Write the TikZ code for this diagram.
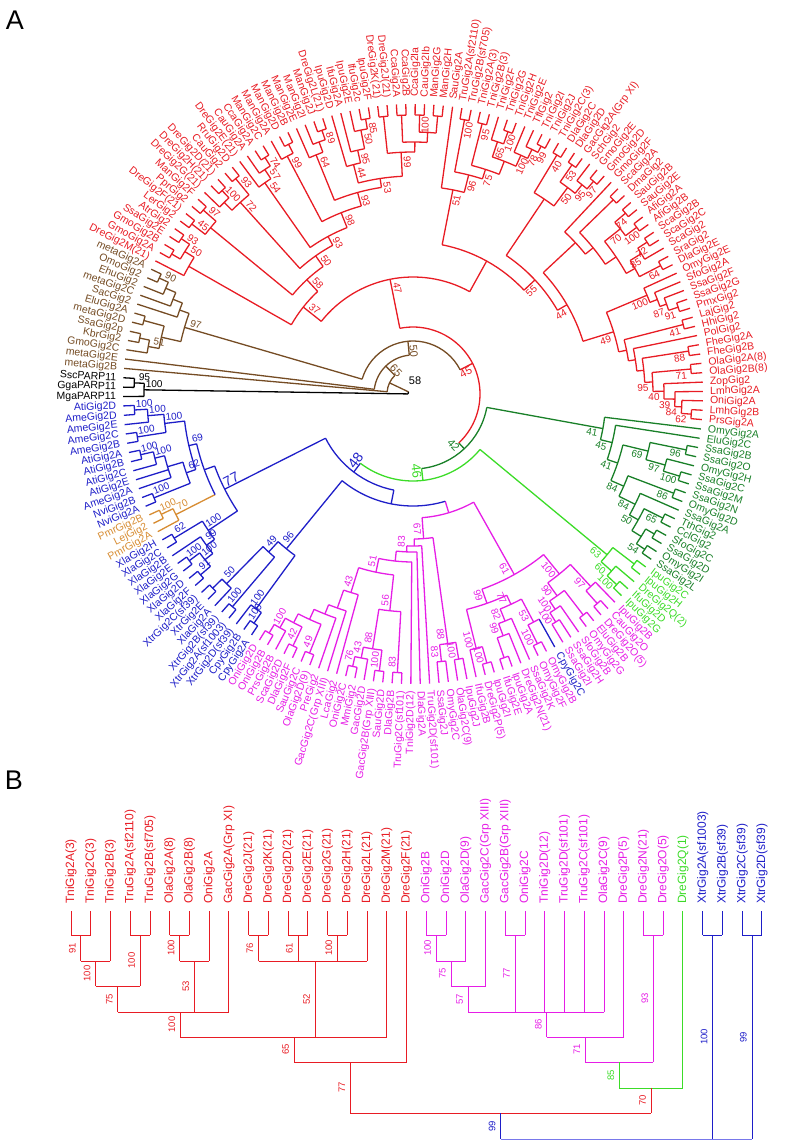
\documentclass[tikz,border=0pt]{standalone}
\usepackage{fontspec}
\setmainfont{Liberation Sans}
\definecolor{cred}{RGB}{232,28,36}
\definecolor{cbrown}{RGB}{117,76,36}
\definecolor{cdgreen}{RGB}{25,128,40}
\definecolor{clgreen}{RGB}{60,220,40}
\definecolor{cmag}{RGB}{230,30,230}
\definecolor{cblue}{RGB}{30,30,200}
\definecolor{cbluel}{RGB}{120,120,235}
\definecolor{corange}{RGB}{215,140,50}
% circular tree: leaf = name, index, colour, text
\newcommand{\lf}[4]{%
 \pgfmathsetmacro\lfa{180.5-(#2)*1.8556701}%
 \expandafter\xdef\csname an@#1\endcsname{\lfa}%
 \expandafter\xdef\csname ra@#1\endcsname{290}%
 \expandafter\xdef\csname co@#1\endcsname{#3}%
 \pgfmathsetmacro\lfc{cos(\lfa)}%
 \ifdim\lfc pt<0pt
  \pgfmathsetmacro\lfr{\lfa+180}%
  \node[lab,text=#3,rotate=\lfr,anchor=east] (l#1) at (\lfa:297) {#4};
 \else
  \node[lab,text=#3,rotate=\lfa,anchor=west] (l#1) at (\lfa:297) {#4};
 \fi}
% support value beside a node
\newcommand{\bsl}[4]{%
 \if\relax\detokenize{#4}\relax\else
  \pgfmathsetmacro\bsa{#1-6/#2*57.3}%
  \pgfmathsetmacro\bsr{#2-10}%
  \pgfmathsetmacro\bsc{cos(#1)}%
  \ifdim\bsc pt<0pt \pgfmathsetmacro\bsrot{#1+180}\else \pgfmathsetmacro\bsrot{#1}\fi
  \node[bs,text=#3,rotate=\bsrot] at (\bsa:\bsr) {#4};
 \fi}
% clade = [branch colour] name, radius, arc colour, support, children
\newcommand{\cl}[6][]{%
 \gdef\clmin{1000}\gdef\clmax{-1000}%
 \foreach \cc in {#6}{%
  \edef\cca{\csname an@\cc\endcsname}%
  \edef\ccr{\csname ra@\cc\endcsname}%
  \edef\ccc{\csname co@\cc\endcsname}%
  \draw[br,draw=\ccc] (\cca:#3) -- (\cca:\ccr);
  \pgfmathsetmacro\cmn{min(\clmin,\cca)}\xdef\clmin{\cmn}%
  \pgfmathsetmacro\cmx{max(\clmax,\cca)}\xdef\clmax{\cmx}%
 }%
 \draw[br,draw=#4] (\clmin:#3) arc[start angle=\clmin,end angle=\clmax,radius=#3];
 \pgfmathsetmacro\clm{(\clmin+\clmax)/2}%
 \coordinate (n#2) at (\clm:#3);
 \expandafter\xdef\csname an@#2\endcsname{\clm}%
 \expandafter\xdef\csname ra@#2\endcsname{#3}%
 \if\relax\detokenize{#1}\relax
  \expandafter\xdef\csname co@#2\endcsname{#4}\bsl{\clm}{#3}{#4}{#5}%
 \else
  \expandafter\xdef\csname co@#2\endcsname{#1}\bsl{\clm}{#3}{#1}{#5}%
 \fi}
% rectangular tree: leaf = name, index, colour, text
\newcommand{\blf}[4]{%
 \pgfmathsetmacro\bxx{71+19.74*(#2)}%
 \expandafter\xdef\csname bx@#1\endcsname{\bxx}%
 \expandafter\xdef\csname by@#1\endcsname{911}%
 \expandafter\xdef\csname bc@#1\endcsname{#3}%
 \expandafter\gdef\csname bl@#1\endcsname{}%
 \node[blab,text=#3,rotate=90,anchor=west] (b#1) at (\bxx,904) {#4};}
% rectangular clade = name, level, bar colour, stem colour, support, children
\newcommand{\bcl}[6]{%
 \gdef\bmin{5000}\gdef\bmax{-5000}\gdef\bsum{0}\gdef\bcnt{0}%
 \foreach \cc in {#6}{%
  \edef\ccx{\csname bx@\cc\endcsname}%
  \edef\ccy{\csname by@\cc\endcsname}%
  \edef\ccc{\csname bc@\cc\endcsname}%
  \draw[bln,draw=\ccc] (\ccx,\ccy) -- (\ccx,#2);
  \pgfmathsetmacro\ccm{(\ccy+#2)/2}%
  \node[bbs,text=\ccc,rotate=90,anchor=south] at ({\ccx-5},\ccm) {\csname bl@\cc\endcsname};
  \pgfmathsetmacro\cmn{min(\bmin,\ccx)}\xdef\bmin{\cmn}%
  \pgfmathsetmacro\cmx{max(\bmax,\ccx)}\xdef\bmax{\cmx}%
  \pgfmathsetmacro\cmn{\bsum+\ccx}\xdef\bsum{\cmn}%
  \pgfmathsetmacro\cmx{\bcnt+1}\xdef\bcnt{\cmx}%
 }%
 \draw[bln,draw=#3] (\bmin,#2) -- (\bmax,#2);
 \pgfmathsetmacro\ccm{\bsum/\bcnt}%
 \coordinate (q#1) at (\ccm,#2);
 \expandafter\xdef\csname bx@#1\endcsname{\ccm}%
 \expandafter\xdef\csname by@#1\endcsname{#2}%
 \expandafter\xdef\csname bc@#1\endcsname{#4}%
 \expandafter\gdef\csname bl@#1\endcsname{#5}}
\begin{document}
\begin{tikzpicture}[x=1pt,y=-1pt,
  br/.style={line width=1.3pt},
  lab/.style={font=\fontsize{10.5}{12}\selectfont,inner sep=0pt},
  bs/.style={font=\fontsize{10}{10}\selectfont,inner sep=0pt},
  bln/.style={line width=0.9pt},
  blab/.style={font=\fontsize{12}{13}\selectfont,inner sep=0pt},
  bbs/.style={font=\fontsize{9.5}{10}\selectfont,inner sep=0pt}]
\useasboundingbox (0,0) rectangle (786,1143);
\node[font=\fontsize{27}{27}\selectfont] (tagA) at (15,20) {A};
\node[font=\fontsize{27}{27}\selectfont] (tagB) at (14,780) {B};
%Panel A
\begin{scope}[shift={(413,394)},y=1pt]
%leaves
\lf{k1}{0}{black}{MgaPARP11}
\lf{k2}{1}{black}{GgaPARP11}
\lf{k3}{2}{black}{SscPARP11}
\foreach \i/\nm in {1/metaGig2B,2/metaGig2E,3/GmoGig2C,4/KbrGig2,5/SsaGig2p,6/metaGig2D,7/EluGig2A,8/SacGig2,9/metaGig2C,10/EhuGig2,11/OmoGig2,12/metaGig2A}
 {\lf{w\i}{\i+2}{cbrown}{\nm}}
\foreach \i/\nm in {1/DreGig2M(21),2/GmoGig2A,3/GmoGig2B,4/SsaGig2E,5/AtrGig2,6/LerGig2,7/DreGig2F(21),8/PprGig2,9/ManGig2F,10/DreGig2G(21),11/DreGig2H(21),12/DreGig2D(21),13/CauGig2,14/RruGig2D,15/DreGig2E(21),16/CauGig2A,17/CcaGig2A,18/ManGig2C,19/ManGig2A,20/ManGig2D,21/ManGig2B,22/ManGig2E,23/ManGig2I,24/ManGig2J,25/DreGig2L(21),26/IpuGig2D,27/IfuGig2A,28/IpuGig2E,29/IfuGig2c,30/IpuGig2F,31/DreGig2K(21),32/DreGig2J(21),33/CcaGig2A,34/CcaGig2B,35/CcaGig2Ia,36/CauGig2Ib,37/ManGig2G,38/ManGig2H,39/SauGig2A,40/TruGig2A(sf2110),41/TruGig2B(sf705),42/TniGig2A(3),43/TniGig2B(3),44/TniGig2F,45/TniGig2G,46/TniGig2H,47/TniGig2E,48/TflGig2,49/TniGig2I,50/TniGig2J,51/TniGig2C(3),52/DlaGig2C,53/DlaGig2D,54/GacGig2A(Grp XI),55/SchGig2,56/GmoGig2E,57/GmoGig2D,58/GmoGig2F,59/ScaGig2A,60/DmaGig2,61/SauGig2B,62/SauGig2E,63/AfiGig2A,64/AfiGig2B,65/ScaGig2B,66/ScaGig2C,67/ScaGig2,68/SraGig2,69/DlaGig2E,70/OmyGig2E,71/SfoGig2A,72/SsaGig2F,73/SsaGig2G,74/PmxGig2,75/LajGig2,76/HhiGig2,77/PolGig2,78/FheGig2A,79/FheGig2B,80/OlaGig2A(8),81/OlaGig2B(8),82/ZopGig2,83/LmhGig2A,84/OniGig2A,85/LmhGig2B,86/PrsGig2A}
 {\lf{r\i}{\i+14}{cred}{\nm}}
\foreach \i/\nm in {1/OmyGig2A,2/EluGig2C,3/SsaGig2B,4/SsaGig2O,5/OmyGig2H,6/SsaGig2C,7/SsaGig2M,8/SsaGig2N,9/OmyGig2D,10/SsaGig2A,11/TthGig2,12/CclGig2,13/SfoGig2C,14/SsaGig2D,15/OmyGig2I,16/SsaGig2L}
 {\lf{d\i}{\i+100}{cdgreen}{\nm}}
\foreach \i/\nm in {1/IpuGig2C,2/IpuGig2H,3/DreGig2Q(2),4/IfuGig2D,5/IpuGig2G}
 {\lf{g\i}{\i+116}{clgreen}{\nm}}
\foreach \i/\nm in {1/IpuGig2B,2/CauGig2O,3/DreGig2O(5),4/EluGig2B,5/OmyGig2G,6/SfoGig2B,7/SsaGig2H,8/SsaGig2I,10/OmyGig2B,11/OmyGig2F,12/SsaGig2K,13/DreGig2N(21),14/IpuGig2A,15/IfuGig2E,16/IpuGig2I,17/DreGig2P(5),18/IfuGig2B,19/IpuGig2J,20/OlaGig2C(9),21/OmyGig2C,22/SsaGig2J,23/TruGig2D(sf101),24/DlaGig2A,25/TniGig2D(12),26/TruGig2C(sf101),27/DlaGig2B,28/SauGig2D,29/GacGig2B(Grp XIII),30/GacGig2D,31/MmiGig2,32/OniGig2C,33/LcaGig2,34/GacGig2C(Grp XIII),35/PreGig2,36/OlaGig2D(9),37/SauGig2C,38/DlaGig2F,39/ScaGig2D,40/PrsGig2B,41/OniGig2B,42/OniGig2D}
 {\lf{m\i}{\i+121}{cmag}{\nm}}
\lf{m9}{130}{cblue}{CpyGig2C}
\foreach \i/\nm in {1/CpyGig2A,2/CpyGig2B,3/XtrGig2D(sf39),4/XtrGig2A(sf1003),5/XtrGig2B(sf39),6/XlaGig2A,7/XtrGig2E,8/XtrGig2C(sf39),9/XlaGig2F,10/XlaGig2D,11/XlaGig2G,12/XlaGig2E,13/XlaGig2B,14/XlaGig2C,15/XlaGig2H}
 {\lf{b\i}{\i+163}{cblue}{\nm}}
\foreach \i/\nm in {1/PmrGig2A,2/LejGig2,3/PmrGig2B}
 {\lf{o\i}{\i+178}{corange}{\nm}}
\foreach \i/\nm in {1/NviGig2A,2/NviGig2B,3/AmeGig2A,4/AtiGig2E,5/AtiGig2C,6/AtiGig2B,7/AtiGig2A,8/AmeGig2B,9/AmeGig2C,10/AmeGig2E,11/AmeGig2D,12/AtiGig2D}
 {\lf{a\i}{\i+181}{cblue}{\nm}}
%outgroup
\cl{K95}{279}{black}{95}{k3,k2}
\cl{K100}{269}{black}{100}{K95,k1}
%brown
\cl{W90}{279}{cbrown}{90}{w12,w11}
\cl{W6}{269}{cbrown}{}{W90,w10}
\cl{W7}{258}{cbrown}{}{W6,w9}
\cl{W8}{248}{cbrown}{}{W7,w8}
\cl{W9}{279}{cbrown}{}{w7,w6}
\cl{W10}{279}{cbrown}{}{w5,w4}
\cl{W51}{269}{cbrown}{51}{W10,w3}
\cl{W11}{258}{cbrown}{}{W9,W51}
\cl{W97}{238}{cbrown}{97}{W8,W11}
%red, first half
\cl{Lb}{279}{cred}{}{r2,r3}
\cl{La}{279}{cred}{93}{r4,r5}
\cl{L50}{269}{cred}{50}{Lb,La}
\cl{Lq}{258}{cred}{}{r1,L50}
\cl{Lc}{279}{cred}{45}{r6,r7}
\cl{Ld}{279}{cred}{97}{r8,r9}
\cl{Lcd}{262}{cred}{}{Lc,Ld}
\cl{Le}{279}{cred}{100}{r11,r12}
\cl{Lg}{269}{cred}{}{r10,Le}
\cl{Lf}{279}{cred}{93}{r13,r14}
\cl{L72}{258}{cred}{72}{Lg,Lf}
\cl{Lh}{279}{cred}{74}{r17,r18}
\cl{L57}{269}{cred}{57}{r16,Lh}
\cl{L54}{258}{cred}{54}{r15,L57}
\cl{Li}{279}{cred}{}{r20,r21}
\cl{L99}{269}{cred}{99}{r19,Li}
\cl{Lj}{279}{cred}{89}{r24,r25}
\cl{Lk}{269}{cred}{}{r23,Lj}
\cl{L64}{258}{cred}{64}{r22,Lk}
\cl{L85}{279}{cred}{85}{r29,r30}
\cl{L50b}{269}{cred}{50}{r28,L85}
\cl{L95}{250}{cred}{95}{r27,L50b}
\cl{L44}{237}{cred}{44}{r26,L95}
\cl{Ta}{279}{cred}{}{r31,r32}
\cl{Tb}{279}{cred}{}{r33,r34}
\cl{Tc}{279}{cred}{100}{r35,r36}
\cl{Td}{279}{cred}{}{r37,r38}
\cl{Tcd}{262}{cred}{}{Tc,Td}
\cl{Tbcd}{252}{cred}{}{Tb,Tcd}
\cl{T99b}{242}{cred}{99}{Ta,Tbcd}
\cl{L53}{218}{cred}{53}{L44,T99b}
\cl{L93b}{209}{cred}{93}{L64,L53}
\cl{L98}{195}{cred}{98}{L99,L93b}
\cl{L93c}{179}{cred}{93}{L54,L98}
\cl{L50c}{169}{cred}{50}{L72,L93c}
\cl{L58}{156}{cred}{58}{Lcd,L50c}
\cl{L37}{140}{cred}{37}{Lq,L58}
%red, second half
\cl{T100a}{279}{cred}{100}{r40,r41}
\cl{T95}{279}{cred}{95}{r42,r43}
\cl{T100b}{279}{cred}{100}{r45,r46}
\cl{T65}{266}{cred}{65}{r44,T100b}
\cl{T99}{279}{cred}{99}{r49,r50}
\cl{T78}{272}{cred}{78}{r48,T99}
\cl{T100c}{262}{cred}{100}{r47,T78}
\cl{T100d}{250}{cred}{}{T65,T100c}
\cl{T75}{236}{cred}{75}{T95,T100d}
\cl{T96}{226}{cred}{96}{T100a,T75}
\cl{T51}{208}{cred}{51}{r39,T96}
\cl{T40}{279}{cred}{40}{r51,r52}
\cl{T53}{279}{cred}{53}{r53,r54}
\cl{T97}{279}{cred}{97}{r56,r57}
\cl{T95b}{269}{cred}{95}{r55,T97}
\cl{T50}{258}{cred}{50}{T53,T95b}
\cl{TL}{235}{cred}{}{T40,T50}
\cl{Tw3}{279}{cred}{}{r59,r60}
\cl{T74}{279}{cred}{74}{r61,r62}
\cl{T100f}{279}{cred}{100}{r63,r64}
\cl{T70}{265}{cred}{70}{T74,T100f}
\cl{T72}{279}{cred}{72}{r65,r66}
\cl{T85}{268}{cred}{85}{T72,r67}
\cl{T64}{279}{cred}{64}{r68,r69}
\cl{Tu}{255}{cred}{}{T85,T64}
\cl{Tv}{245}{cred}{}{T70,Tu}
\cl{Tw2}{232}{cred}{}{Tw3,Tv}
\cl{Tw}{222}{cred}{}{r58,Tw2}
\cl{T91}{279}{cred}{91}{r73,r74}
\cl{T87}{269}{cred}{87}{r72,T91}
\cl{Tq}{262}{cred}{}{r71,T87}
\cl{T100e}{254}{cred}{100}{r70,Tq}
\cl{T41}{279}{cred}{41}{r75,r76}
\cl{T88}{279}{cred}{88}{r78,r79}
\cl{T71}{279}{cred}{71}{r80,r81}
\cl{T62}{279}{cred}{62}{r85,r86}
\cl{T84}{269}{cred}{84}{r84,T62}
\cl{T39}{262}{cred}{39}{r83,T84}
\cl{T40c}{251}{cred}{40}{r82,T39}
\cl{T95c}{240}{cred}{95}{T71,T40c}
\cl{Tm1}{232}{cred}{}{T88,T95c}
\cl{Tm2}{225}{cred}{}{r77,Tm1}
\cl{Tm3}{218}{cred}{}{T41,Tm2}
\cl{T49}{210}{cred}{49}{T100e,Tm3}
\cl{T44}{178}{cred}{44}{Tw,T49}
\cl{T55}{167}{cred}{55}{TL,T44}
\cl{Nright}{152}{cred}{}{T51,T55}
\cl{Nred}{117}{cred}{47}{L37,Nright}
%dark green
\cl{D96}{279}{cdgreen}{96}{d3,d4}
\cl{D100}{279}{cdgreen}{100}{d6,d7}
\cl{D97}{262}{cdgreen}{97}{d5,D100}
\cl{D69}{242}{cdgreen}{69}{D96,D97}
\cl{D86}{279}{cdgreen}{86}{d8,d9}
\cl{D65}{279}{cdgreen}{65}{d11,d12}
\cl{Dy}{279}{cdgreen}{}{d13,d14}
\cl{D54}{279}{cdgreen}{54}{d15,d16}
\cl{Dw}{269}{cdgreen}{}{Dy,D54}
\cl{D50}{258}{cdgreen}{50}{D65,Dw}
\cl{D84b}{248}{cdgreen}{84}{d10,D50}
\cl{D84}{230}{cdgreen}{84}{D86,D84b}
\cl{D41b}{216}{cdgreen}{41}{D69,D84}
\cl{D45}{205}{cdgreen}{45}{d2,D41b}
\cl{D41}{193}{cdgreen}{41}{d1,D45}
%light green
\cl{Gp}{279}{clgreen}{}{g1,g2}
\cl{G100}{279}{clgreen}{100}{g4,g5}
\cl{G60}{266}{clgreen}{60}{g3,G100}
\cl{G63}{252}{clgreen}{63}{Gp,G60}
%magenta
\cl{M100a}{279}{cmag}{}{m2,m3}
\cl{M97}{262}{cmag}{97}{m1,M100a}
\cl{M100f}{279}{cmag}{}{m4,m5}
\cl{M100e}{269}{cmag}{100}{m7,m8}
\cl{M100c}{258}{cmag}{100}{m6,M100e}
\cl{M90}{248}{cmag}{90}{M100f,M100c}
\cl{M100b}{232}{cmag}{100}{M97,M90}
\cl{M100g}{279}{cmag}{100}{m10,m11}
\cl{M53}{258}{cmag}{53}{m9,M100g}
\cl{M100h}{279}{cmag}{}{m14,m15}
\cl{M99c}{258}{cmag}{99}{m13,M100h}
\cl{M82}{245}{cmag}{82}{m12,M99c}
\cl{M77}{232}{cmag}{77}{M53,M82}
\cl{M100i}{279}{cmag}{100}{m16,m17}
\cl{M100j}{262}{cmag}{100}{M100i,m18}
\cl{M99}{222}{cmag}{99}{M77,M100j}
\cl{M61}{207}{cmag}{61}{M100b,M99}
\cl{M100k}{269}{cmag}{100}{m19,m20}
\cl{M83}{269}{cmag}{83}{m21,m22}
\cl{M88}{252}{cmag}{88}{M100k,M83}
\cl{M83c}{279}{cmag}{83}{m26,m27}
\cl{M100m}{279}{cmag}{100}{m28,m29}
\cl{M76}{279}{cmag}{76}{m31,m32}
\cl{M43b}{269}{cmag}{43}{m30,M76}
\cl{M88b}{258}{cmag}{88}{M100m,M43b}
\cl{M56}{218}{cmag}{56}{M83c,M88b}
\cl{MA}{279}{cmag}{}{m41,m42}
\cl{M100L}{269}{cmag}{100}{m40,MA}
\cl{M42}{279}{cmag}{42}{m38,m39}
\cl{Mx1}{258}{cmag}{}{M42,M100L}
\cl{M49}{279}{cmag}{49}{m36,m37}
\cl{Mx2}{248}{cmag}{}{M49,Mx1}
\cl{Mx3}{237}{cmag}{}{m35,Mx2}
\cl{Mx4}{227}{cmag}{}{m34,Mx3}
\cl{M43}{208}{cmag}{43}{m33,Mx4}
\cl{M51}{182}{cmag}{51}{M56,M43}
\cl{Mc}{168}{cmag}{}{m25,M51}
\cl{M83b}{158}{cmag}{83}{m24,Mc}
\cl{Md}{152}{cmag}{}{m23,M83b}
\cl{M67}{145}{cmag}{67}{M88,Md}
\cl{Nmag}{124}{cmag}{}{M67,M61}
%blue and orange
\cl{B62}{279}{cblue}{62}{b15,b14}
\cl{B100a}{279}{cblue}{100}{b12,b11}
\cl{B91}{279}{cblue}{91}{b10,b9}
\cl{B100b}{266}{cblue}{100}{B100a,B91}
\cl{B99}{256}{cblue}{99}{b13,B100b}
\cl{B100c}{246}{cblue}{100}{B62,B99}
\cl{Bp}{279}{cblue}{}{b8,b7}
\cl{B50}{266}{cblue}{50}{b6,Bp}
\cl{B100d}{279}{cblue}{100}{b5,b4}
\cl{B49}{214}{cblue}{49}{B50,B100d}
\cl{B100e}{279}{cblue}{100}{b2,b1}
\cl{Br}{266}{cblue}{100}{b3,B100e}
\cl{N96}{200}{cblue}{96}{B49,Br}
\cl{A1}{279}{cblue}{100}{a12,a11}
\cl{A2}{266}{cblue}{100}{A1,a10}
\cl{A3}{279}{cblue}{100}{a9,a8}
\cl{A5}{250}{cblue}{100}{A2,A3}
\cl{A6}{279}{cblue}{100}{a7,a6}
\cl{A7}{266}{cblue}{100}{A6,a5}
\cl{A8}{256}{cblue}{}{A7,a4,a3}
\cl{A9}{279}{cblue}{100}{a2,a1}
\cl{A62}{240}{cblue}{62}{A8,A9}
\cl{A69}{230}{cblue}{69}{A5,A62}
\cl{O100}{279}{corange}{100}{o3,o2}
\cl{O70}{266}{corange}{70}{O100,o1}
\cl{Aup}{222}{cblue}{}{A69,O70}
\cl{N77}{211}{cblue}{\fontsize{14}{14}\selectfont 77}{Aup,B100c}
%centre
\cl{Y}{112}{cblue}{}{N96,Nmag}
\cl{N48}{98}{cblue}{\fontsize{14}{14}\selectfont 48}{N77,Y}
\cl[clgreen]{N46}{87}{clgreen}{\fontsize{13}{13}\selectfont 46}{N48,G63}
\cl{N42}{75}{cdgreen}{\fontsize{11}{11}\selectfont 42}{D41,N46}
\cl{N45}{67}{cred}{\fontsize{11}{11}\selectfont 45}{Nred,N42}
\cl{N50}{53}{cbrown}{\fontsize{11}{11}\selectfont 50}{W97,N45}
\cl{N65}{39}{cbrown}{\fontsize{11}{11}\selectfont 65}{w2,N50}
\cl{Nb}{26}{cbrown}{}{w1,N65}
\cl{N58}{5}{black}{}{K100,Nb}
\node[font=\fontsize{11}{11}\selectfont] (root58) at (2,13) {58};
\end{scope}
%Panel B
\foreach \i/\nm in {0/TniGig2A(3),1/TniGig2C(3),2/TniGig2B(3),3/TruGig2A(sf2110),4/TruGig2B(sf705),5/OlaGig2A(8),6/OlaGig2B(8),7/OniGig2A,8/GacGig2A(Grp XI),9/DreGig2J(21),10/DreGig2K(21),11/DreGig2D(21),12/DreGig2E(21),13/DreGig2G(21),14/DreGig2H(21),15/DreGig2L(21),16/DreGig2M(21),17/DreGig2F(21)}
 {\blf{p\i}{\i}{cred}{\nm}}
\foreach \i/\nm in {18/OniGig2B,19/OniGig2D,20/OlaGig2D(9),21/GacGig2C(Grp XIII),22/GacGig2B(Grp XIII),23/OniGig2C,24/TniGig2D(12),25/TruGig2D(sf101),26/TruGig2C(sf101),27/OlaGig2C(9),28/DreGig2P(5),29/DreGig2N(21),30/DreGig2O(5)}
 {\blf{p\i}{\i}{cmag}{\nm}}
\blf{p31}{31}{clgreen}{DreGig2Q(1)}
\foreach \i/\nm in {32/XtrGig2A(sf1003),33/XtrGig2B(sf39),34/XtrGig2C(sf39),35/XtrGig2D(sf39)}
 {\blf{p\i}{\i}{cblue}{\nm}}
\bcl{q1}{935}{cred}{cred}{91}{p0,p1}
\bcl{q2}{961}{cred}{cred}{100}{q1,p2}
\bcl{q3}{935}{cred}{cred}{100}{p3,p4}
\bcl{q4}{986}{cred}{cred}{75}{q2,q3}
\bcl{q5}{935}{cred}{cred}{100}{p5,p6}
\bcl{q6}{961}{cred}{cred}{53}{q5,p7}
\bcl{q7}{1012}{cred}{cred}{100}{q4,q6,p8}
\bcl{q8}{935}{cred}{cred}{76}{p9,p10}
\bcl{q9}{935}{cred}{cred}{61}{p11,p12}
\bcl{q10}{935}{cred}{cred}{100}{p13,p14}
\bcl{q11}{961}{cred}{cred}{52}{q8,q9,q10,p15}
\bcl{q12}{1037}{cred}{cred}{65}{q7,q11,p16}
\bcl{q13}{1062}{cred}{cred}{77}{q12,p17}
\bcl{s1}{935}{cmag}{cmag}{100}{p18,p19}
\bcl{s2}{961}{cmag}{cmag}{75}{s1,p20}
\bcl{s3}{986}{cmag}{cmag}{57}{s2,p21}
\bcl{s4}{935}{cmag}{cmag}{77}{p22,p23}
\bcl{s5}{1012}{cmag}{cmag}{86}{s3,s4,p24,p25,p26,p27}
\bcl{s6}{1037}{cmag}{cmag}{71}{s5,p28}
\bcl{s7}{935}{cmag}{cmag}{93}{p29,p30}
\bcl{s8}{1062}{cmag}{clgreen}{85}{s6,s7}
\bcl{s9}{1088}{clgreen}{cred}{70}{s8,p31}
\bcl{s10}{1113}{cred}{cblue}{99}{q13,s9}
\bcl{u1}{935}{cblue}{cblue}{100}{p32,p33}
\bcl{u2}{935}{cblue}{cblue}{99}{p34,p35}
\bcl{u3}{1139}{cbluel}{cbluel}{}{s10,u1,u2}
\end{tikzpicture}
\end{document}
